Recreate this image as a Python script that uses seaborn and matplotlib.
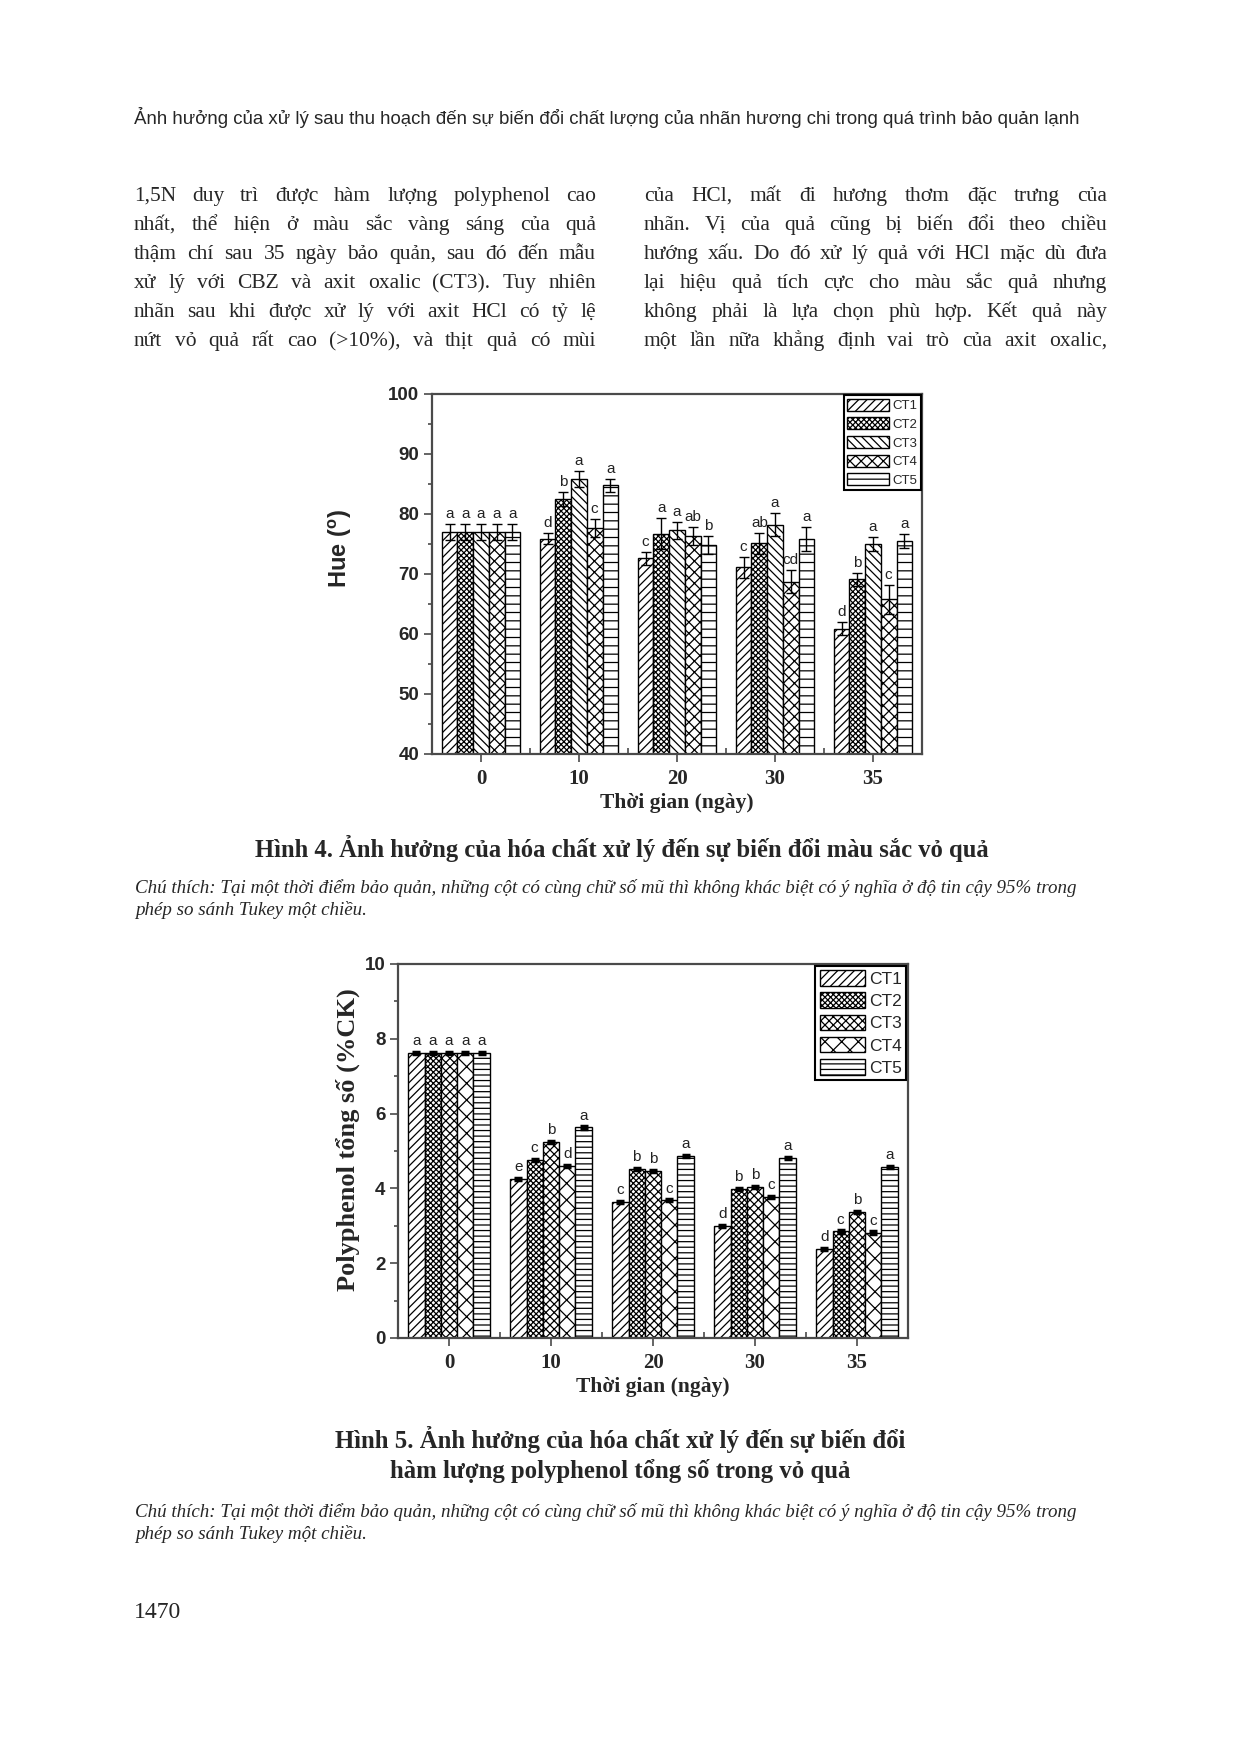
import numpy as np
import pandas as pd
import seaborn as sns
import matplotlib
matplotlib.use("Agg")
import matplotlib.pyplot as plt
from matplotlib.ticker import MultipleLocator, FixedLocator

# ---------------- data ----------------
days = ["0", "10", "20", "30", "35"]
treatments = ["CT1", "CT2", "CT3", "CT4", "CT5"]

hue_ct1 = [77.0, 75.9, 72.6, 71.1, 60.9]
hue_ct2 = [77.0, 82.5, 76.7, 75.1, 69.1]
hue_ct3 = [77.0, 85.8, 77.3, 78.2, 75.0]
hue_ct4 = [77.0, 77.6, 76.3, 68.7, 65.8]
hue_ct5 = [77.0, 84.8, 74.8, 75.9, 75.5]
hue_err_ct1 = [1.3, 0.9, 1.1, 1.8, 1.1]
hue_err_ct2 = [1.3, 1.1, 2.6, 1.8, 1.1]
hue_err_ct3 = [1.3, 1.3, 1.4, 1.9, 1.1]
hue_err_ct4 = [1.3, 1.5, 1.5, 1.9, 2.4]
hue_err_ct5 = [1.3, 1.1, 1.5, 2.0, 1.1]
hue_let_ct1 = ["a", "d", "c", "c", "d"]
hue_let_ct2 = ["a", "b", "a", "ab", "b"]
hue_let_ct3 = ["a", "a", "a", "a", "a"]
hue_let_ct4 = ["a", "c", "ab", "cd", "c"]
hue_let_ct5 = ["a", "a", "b", "a", "a"]

pp_ct1 = [7.62, 4.26, 3.63, 3.00, 2.38]
pp_ct2 = [7.62, 4.76, 4.51, 3.98, 2.85]
pp_ct3 = [7.62, 5.24, 4.46, 4.04, 3.37]
pp_ct4 = [7.62, 4.59, 3.68, 3.78, 2.82]
pp_ct5 = [7.62, 5.63, 4.87, 4.81, 4.57]
pp_err = [0.03, 0.03, 0.03, 0.03, 0.03]
pp_let_ct1 = ["a", "e", "c", "d", "d"]
pp_let_ct2 = ["a", "c", "b", "b", "c"]
pp_let_ct3 = ["a", "b", "b", "b", "b"]
pp_let_ct4 = ["a", "d", "c", "c", "c"]
pp_let_ct5 = ["a", "a", "a", "a", "a"]

header = ("Ảnh hưởng của xử lý sau thu hoạch đến sự biến đổi chất lượng của "
          "nhãn hương chi trong quá trình bảo quản lạnh")
left_col = ["1,5N duy trì được hàm lượng polyphenol cao",
            "nhất, thể hiện ở màu sắc vàng sáng của quả",
            "thậm chí sau 35 ngày bảo quản, sau đó đến mẫu",
            "xử lý với CBZ và axit oxalic (CT3). Tuy nhiên",
            "nhãn sau khi được xử lý với axit HCl có tỷ lệ",
            "nứt vỏ quả rất cao (>10%), và thịt quả có mùi"]
right_col = ["của HCl, mất đi hương thơm đặc trưng của",
             "nhãn. Vị của quả cũng bị biến đổi theo chiều",
             "hướng xấu. Do đó xử lý quả với HCl mặc dù đưa",
             "lại hiệu quả tích cực cho màu sắc quả nhưng",
             "không phải là lựa chọn phù hợp. Kết quả này",
             "một lần nữa khẳng định vai trò của axit oxalic,"]
cap4 = "Hình 4. Ảnh hưởng của hóa chất xử lý đến sự biến đổi màu sắc vỏ quả"
cap5a = "Hình 5. Ảnh hưởng của hóa chất xử lý đến sự biến đổi"
cap5b = "hàm lượng polyphenol tổng số trong vỏ quả"
note1 = ("Chú thích: Tại một thời điểm bảo quản, những cột có cùng chữ số mũ thì "
         "không khác biệt có ý nghĩa ở độ tin cậy 95% trong")
note2 = "phép so sánh Tukey một chiều."
page_no = "1470"

# ---------------- setup ----------------
sns.set_style("ticks")
plt.rcParams["font.family"] = ["Liberation Sans", "DejaVu Sans"]
plt.rcParams["hatch.linewidth"] = 0.9
plt.rcParams["hatch.color"] = "black"
plt.rcParams["mathtext.fontset"] = "custom"
plt.rcParams["mathtext.bf"] = "Liberation Sans:bold"
plt.rcParams["mathtext.rm"] = "Liberation Sans:bold"

W, H = 1239, 1754
fig = plt.figure(figsize=(W / 100, H / 100), dpi=100)
fig.patch.set_facecolor("white")
renderer = fig.canvas.get_renderer()

SERIF = ["Liberation Serif", "DejaVu Serif"]
TIMES = ["Liberation Serif", "DejaVu Serif"]
SANS = ["Liberation Sans", "DejaVu Sans"]


def fx(x):
    return x / W


def fy(y):
    return 1 - y / H


def width_of(t):
    return t.get_window_extent(renderer).width


def fit_text(s, x0, x1, yb, fs0, ha="left", **kw):
    t = fig.text(0, 0, s, fontsize=fs0, va="baseline", **kw)
    w = width_of(t)
    fs = fs0 * (x1 - x0) / w
    t.set_fontsize(fs)
    if ha == "center":
        t.set_ha("center")
        t.set_position((fx((x0 + x1) / 2), fy(yb)))
    else:
        t.set_position((fx(x0), fy(yb)))
    return fs


def justify(line, x0, x1, yb, fs, **kw):
    words = line.split(" ")
    ts = [fig.text(0, 0, w, fontsize=fs, va="baseline", **kw) for w in words]
    ws = [width_of(t) for t in ts]
    gap = (x1 - x0 - sum(ws)) / max(1, len(words) - 1)
    x = x0
    for t, w in zip(ts, ws):
        t.set_position((fx(x), fy(yb)))
        x += w + gap


# ---------------- page text ----------------
fit_text(header, 134, 1087, 124, 12, family=SANS)

probe = fig.text(0, 0, "", fontsize=15, family=SERIF)
ratios = []
for line in left_col + right_col:
    probe.set_text(line)
    ratios.append(462 / (width_of(probe) * 1.03))
probe.remove()
fs_body = min(15.5, 15 * min(ratios))
col_y = [201, 230, 259, 288, 317, 346]
for line, yb in zip(left_col, col_y):
    justify(line, 134, 596, yb, fs_body, family=SERIF)
for line, yb in zip(right_col, col_y):
    justify(line, 644, 1107, yb, fs_body, family=SERIF)

fit_text(cap4, 253, 990, 857, 14, ha="center", family=SERIF, fontweight="bold")
fsn = fit_text(note1, 135, 1076, 893, 11, family=SERIF, style="italic")
fig.text(fx(135), fy(915), note2, fontsize=fsn, family=SERIF, style="italic", va="baseline")

fs5 = fit_text(cap5a, 334, 907, 1448, 14, ha="center", family=SERIF, fontweight="bold")
fig.text(fx(620), fy(1478), cap5b, fontsize=fs5, family=SERIF, fontweight="bold",
         ha="center", va="baseline")
fig.text(fx(135), fy(1517), note1, fontsize=fsn, family=SERIF, style="italic", va="baseline")
fig.text(fx(135), fy(1539), note2, fontsize=fsn, family=SERIF, style="italic", va="baseline")
fig.text(fx(134), fy(1618), page_no, fontsize=17, family=SERIF, va="baseline")

# ---------------- charts ----------------
SPINE = "#4a4a4a"


def make_chart(rect, values, errs, letters, hatches, ylim, ymaj, ymin_, ylabel,
               ylabel_font, ylabel_size, ylabel_pos, letter_off, capsize, capthick,
               leg_kw):
    ax = fig.add_axes(rect)
    df = pd.DataFrame({
        "day": np.repeat([days], 5, axis=0).ravel(),
        "treatment": np.repeat(treatments, 5),
        "value": np.concatenate(values),
    })
    sns.barplot(data=df, x="day", y="value", hue="treatment", order=days,
                hue_order=treatments, errorbar=None, palette=["white"] * 5,
                edgecolor="black", linewidth=1.0, width=0.8, legend=False,
                saturation=1, ax=ax)
    bars = list(ax.containers[:5])
    for cont, hatch in zip(bars, hatches):
        for p in cont:
            p.set_hatch(hatch)
            p.set_edgecolor("black")
    for cont, e, lets in zip(bars, errs, letters):
        xs = [p.get_x() + p.get_width() / 2 for p in cont]
        ys = [p.get_height() for p in cont]
        ax.errorbar(xs, ys, yerr=e, fmt="none", ecolor="black", elinewidth=1.0,
                    capsize=capsize, capthick=capthick, zorder=5)
        for x, y, ee, l in zip(xs, ys, e, lets):
            ax.text(x, y + ee + letter_off, l, ha="center", va="bottom",
                    fontsize=11, family=SANS, color="#222222")
    ax.set_xlim(-0.5, 4.5)
    ax.set_ylim(*ylim)
    ax.yaxis.set_major_locator(MultipleLocator(ymaj))
    ax.yaxis.set_minor_locator(MultipleLocator(ymin_))
    ax.xaxis.set_minor_locator(FixedLocator([0.5, 1.5, 2.5, 3.5]))
    ax.tick_params(axis="y", which="major", length=6, width=1.2, color=SPINE,
                   labelsize=13.5, pad=3)
    ax.tick_params(axis="y", which="minor", length=3, width=1.2, color=SPINE)
    ax.tick_params(axis="x", which="major", length=6, width=1.2, color=SPINE,
                   labelsize=15, pad=5)
    ax.tick_params(axis="x", which="minor", length=4, width=1.2, color=SPINE,
                   direction="in")
    for lab in ax.get_yticklabels():
        lab.set_fontweight("bold")
        lab.set_family(SANS)
    for lab in ax.get_xticklabels():
        lab.set_fontweight("bold")
        lab.set_family(TIMES)
    for s in ax.spines.values():
        s.set_visible(True)
        s.set_color(SPINE)
        s.set_linewidth(1.6)
    ax.set_xlabel("Thời gian (ngày)", fontsize=15.5, fontweight="bold", family=TIMES,
                  labelpad=3)
    ax.set_ylabel(ylabel, fontsize=ylabel_size, fontweight="bold", family=ylabel_font)
    ax.yaxis.set_label_coords(*ylabel_pos)
    leg = ax.legend(handles=[c[0] for c in bars], labels=treatments, loc="upper right",
                    bbox_to_anchor=(1.0, 1.0), borderaxespad=0.1, frameon=True,
                    fancybox=False, framealpha=1, edgecolor="black",
                    prop={"family": SANS, "size": leg_kw["size"]},
                    handlelength=leg_kw["hl"], handleheight=leg_kw["hh"],
                    labelspacing=leg_kw["ls"], handletextpad=0.25, borderpad=0.25)
    leg.get_frame().set_linewidth(1.5)
    return ax


ax1 = make_chart(
    [fx(432), fy(754), 490 / W, 360 / H],
    [hue_ct1, hue_ct2, hue_ct3, hue_ct4, hue_ct5],
    [hue_err_ct1, hue_err_ct2, hue_err_ct3, hue_err_ct4, hue_err_ct5],
    [hue_let_ct1, hue_let_ct2, hue_let_ct3, hue_let_ct4, hue_let_ct5],
    ["////", "xxxxxx", "\\\\\\\\", "xxx", "--"],
    (40, 100), 10, 5, r"Hue ($^{\mathbf{o}}$)", SANS, 17, (-0.16, 0.57),
    0.5, 3.5, 1.0, {"size": 9.5, "hl": 3.2, "hh": 1.05, "ls": 0.38})

ax2 = make_chart(
    [fx(398), fy(1338), 510 / W, 374 / H],
    [pp_ct1, pp_ct2, pp_ct3, pp_ct4, pp_ct5],
    [pp_err] * 5,
    [pp_let_ct1, pp_let_ct2, pp_let_ct3, pp_let_ct4, pp_let_ct5],
    ["////", "xxxxxx", "xxxx", "xx", "---"],
    (0, 10), 2, 1, "Polyphenol tổng số (%CK)", TIMES, 19, (-0.075, 0.53),
    0.1, 3.0, 2.5, {"size": 12.5, "hl": 2.6, "hh": 1.0, "ls": 0.32})

fig.savefig("out.png", dpi=100, facecolor="white")
